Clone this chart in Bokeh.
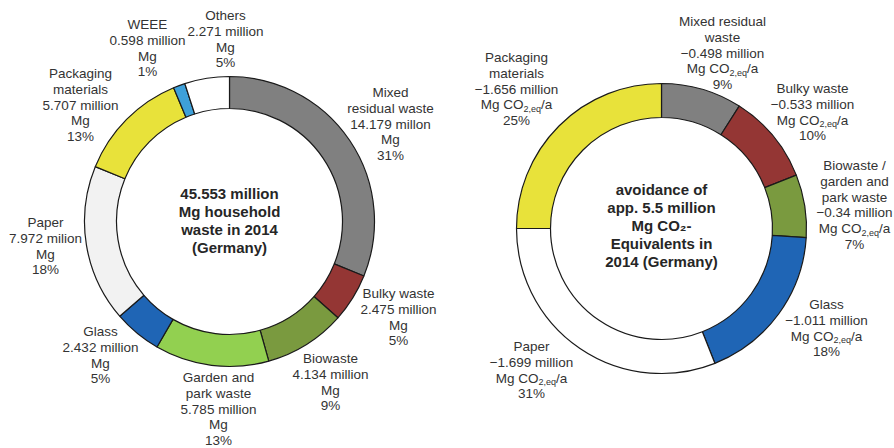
import math
from bokeh.plotting import figure
from bokeh.models import Range1d
from bokeh.core.properties import value
from bokeh.embed import file_html
from bokeh.resources import INLINE

W, H = 894, 448

# ---------------- data ----------------
left_cats = ["Mixed residual waste", "Bulky waste", "Biowaste", "Garden and park waste",
             "Glass", "Paper", "Packaging materials", "WEEE", "Others"]
left_values = [14.179, 2.475, 4.134, 5.785, 2.432, 7.972, 5.707, 0.598, 2.271]
left_pct = [31, 5, 9, 13, 5, 18, 13, 1, 5]
left_colors = ["#808080", "#943634", "#7a9a3f", "#92d050", "#1f65b5",
               "#f2f2f2", "#e8e23a", "#3ea0d9", "#ffffff"]
left_labels = [
    ["Mixed", "residual waste", "14.179 millon", "Mg", "31%"],
    ["Bulky waste", "2.475 million", "Mg", "5%"],
    ["Biowaste", "4.134 million", "Mg", "9%"],
    ["Garden and", "park waste", "5.785 million", "Mg", "13%"],
    ["Glass", "2.432 million", "Mg", "5%"],
    ["Paper", "7.972 milion", "Mg", "18%"],
    ["Packaging", "materials", "5.707 million", "Mg", "13%"],
    ["WEEE", "0.598 million", "Mg", "1%"],
    ["Others", "2.271 million", "Mg", "5%"],
]
left_center_text = ["45.553 million", "Mg household", "waste in 2014", "(Germany)"]

right_cats = ["Mixed residual waste", "Bulky waste", "Biowaste / garden and park waste",
              "Glass", "Paper", "Packaging materials"]
right_values = [-0.498, -0.533, -0.34, -1.011, -1.699, -1.656]
right_pct = [9, 10, 7, 18, 31, 25]
right_colors = ["#808080", "#943634", "#7a9a3f", "#1f65b5", "#ffffff", "#e8e23a"]
right_labels = [
    ["Mixed residual", "waste", "\u22120.498 million", "CO2", "9%"],
    ["Bulky waste", "\u22120.533 million", "CO2", "10%"],
    ["Biowaste /", "garden and", "park waste", "\u22120.34 million", "CO2", "7%"],
    ["Glass", "\u22121.011 million", "CO2", "18%"],
    ["Paper", "\u22121.699 million", "CO2", "31%"],
    ["Packaging", "materials", "\u22121.656 million", "CO2", "25%"],
]
right_center_text = ["avoidance of", "app. 5.5 million", "Mg CO\u2082-", "Equivalents in", "2014 (Germany)"]

# ---------------- layout (screen pixel coords, y down) ----------------
L_C = (229, 221); L_RO, L_RI = 145, 113
R_C = (661, 228); R_RO, R_RI = 145, 111
left_anchor = [(390, 92), (398, 293), (330, 358), (218, 377), (100, 331),
               (45, 222), (80, 73), (147, 24), (225, 15)]
right_anchor = [(722, 21), (812, 88), (854, 165), (826, 304), (531, 346), (516, 57)]
LINE = 15.8
FONT = "Liberation Sans"
FS = 13.5
TXT = "#333333"

p = figure(width=W, height=H, output_backend="svg", toolbar_location=None,
           x_range=Range1d(0, W), y_range=Range1d(0, H), min_border=0,
           background_fill_color="white", border_fill_color="white")
p.axis.visible = False
p.grid.visible = False
p.outline_line_color = None


def Y(sy):
    return H - sy


def donut(center, ro, ri, fracs, colors):
    tot = sum(fracs)
    cum = 0.0
    starts, ends = [], []
    for f in fracs:
        a0 = math.pi / 2 - 2 * math.pi * cum / tot
        cum += f
        a1 = math.pi / 2 - 2 * math.pi * cum / tot
        starts.append(a1)
        ends.append(a0)
    n = len(fracs)
    p.annular_wedge(x=[center[0]] * n, y=[Y(center[1])] * n, inner_radius=ri, outer_radius=ro,
                    start_angle=starts, end_angle=ends, fill_color=colors,
                    line_color="#1a1a1a", line_width=1.2)


donut(L_C, L_RO, L_RI, [abs(v) for v in left_values], left_colors)
donut(R_C, R_RO, R_RI, right_pct, right_colors)

# Arial/Liberation widths (per 1000 em)
AW = {"M": 833, "g": 556, " ": 278, "C": 722, "O": 778, "2": 556, ",": 278, "e": 556,
      "q": 556, "/": 278, "a": 556}


def tw(s, size):
    return sum(AW.get(c, 556) for c in s) / 1000.0 * size


def txt(x, sy, s, size=FS, bold=False, align="center", color=TXT):
    p.text(x=[x], y=[Y(sy)], text=[s], text_font=value(FONT), text_font_size=f"{size}px",
           text_font_style="bold" if bold else "normal", text_align=align,
           text_baseline="middle", text_color=color)


def co2_line(cx, sy):
    sub = 9
    w1, w2, w3 = tw("Mg CO", FS), tw("2,eq", sub), tw("/a", FS)
    x0 = cx - (w1 + w2 + w3) / 2
    txt(x0, sy, "Mg CO", align="left")
    txt(x0 + w1, sy + 4, "2,eq", size=sub, align="left")
    txt(x0 + w1 + w2, sy, "/a", align="left")


for (cx, y0), lines in zip(left_anchor, left_labels):
    for i, s in enumerate(lines):
        txt(cx, y0 + i * LINE, s)

for (cx, y0), lines in zip(right_anchor, right_labels):
    for i, s in enumerate(lines):
        if s == "CO2":
            co2_line(cx, y0 + i * LINE)
        else:
            txt(cx, y0 + i * LINE, s)

for i, s in enumerate(left_center_text):
    txt(L_C[0], 193 + i * 18, s, size=15, bold=True, color="#262626")
for i, s in enumerate(right_center_text):
    txt(R_C[0], 189 + i * 18, s, size=15, bold=True, color="#262626")

open("out.html", "w").write(file_html(p, INLINE))
